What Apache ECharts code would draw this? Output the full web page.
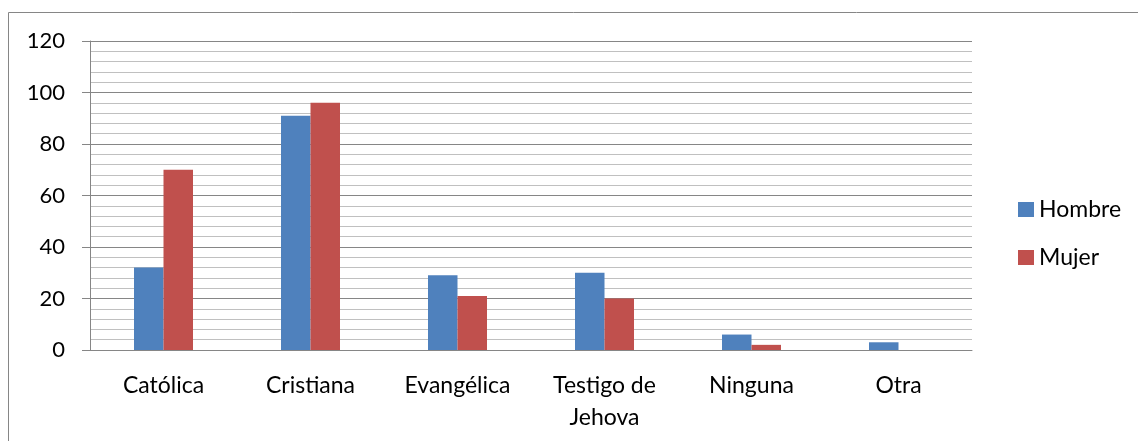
<!DOCTYPE html>
<html>
<head>
<meta charset="utf-8">
<script src="https://cdn.jsdelivr.net/npm/echarts@6/dist/echarts.min.js"></script>
<style>
  html, body { margin: 0; padding: 0; background: #fff; }
  #chart { width: 1138px; height: 441px; }
</style>
</head>
<body>
<div id="chart"></div>
<script>
// Religion by sex
const categories = ['Católica', 'Cristiana', 'Evangélica', 'Testigo de\nJehova', 'Ninguna', 'Otra'];
const hombre = [32, 91, 29, 30, 6, 3];
const mujer = [70, 96, 21, 20, 2, 0];
const seriesNames = ['Hombre', 'Mujer'];

const FONT = 'Lato, "Open Sans", sans-serif';
const chart = echarts.init(document.getElementById('chart'));

chart.setOption({
  animation: false,
  textStyle: { fontFamily: FONT },
  graphic: [{
    type: 'rect',
    shape: { x: 8.5, y: 12.5, width: 1200, height: 500 },
    style: { fill: 'none', stroke: '#868686', lineWidth: 1 },
    silent: true
  }],
  grid: { left: 90, right: 166, top: 41, bottom: 91, containLabel: false },
  legend: {
    orient: 'vertical',
    left: 1013,
    top: 193,
    itemWidth: 16,
    itemHeight: 15,
    itemGap: 25,
    icon: 'rect',
    textStyle: { fontSize: 23, color: '#000', fontFamily: FONT, padding: [0, 0, 0, 0] },
    data: seriesNames
  },
  xAxis: {
    type: 'category',
    data: categories,
    axisLine: { lineStyle: { color: '#868686', width: 1 } },
    axisTick: { show: false },
    axisLabel: { color: '#000', fontSize: 23, margin: 20, lineHeight: 32, fontFamily: FONT, interval: 0 }
  },
  yAxis: {
    type: 'value',
    min: 0,
    max: 120,
    interval: 20,
    axisLine: { show: true, lineStyle: { color: '#868686' } },
    axisTick: { show: true, length: 8, lineStyle: { color: '#868686' } },
    axisLabel: { color: '#000', fontSize: 22, margin: 25, fontFamily: FONT },
    splitLine: { show: true, lineStyle: { color: '#868686', width: 1 } },
    minorTick: { show: false, splitNumber: 5 },
    minorSplitLine: { show: true, lineStyle: { color: '#c0c0c0', width: 1 } }
  },
  series: [
    {
      name: seriesNames[0], type: 'bar', data: hombre,
      barWidth: 29.5, barGap: '0%',
      itemStyle: { color: '#4F81BD' }
    },
    {
      name: seriesNames[1], type: 'bar', data: mujer,
      barWidth: 29.5, barGap: '0%',
      itemStyle: { color: '#C0504D' }
    }
  ]
});
</script>
</body>
</html>
